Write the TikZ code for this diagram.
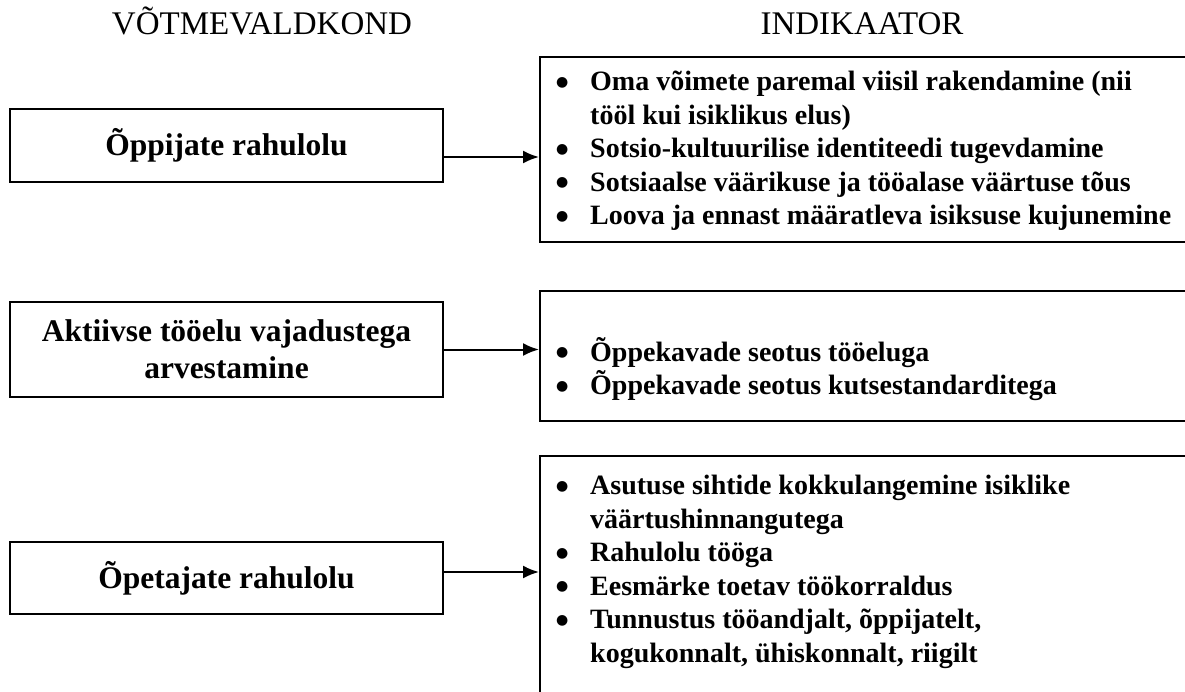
\documentclass[tikz,border=0pt]{standalone}
\usepackage{fontspec}
\setmainfont{Liberation Serif}
\newfontfamily\dotfont{DejaVu Sans}
\usetikzlibrary{arrows.meta,positioning}

\newcommand{\itm}{\makebox[35pt][l]{\hspace{1pt}\raisebox{4.5pt}{\dotfont\mdseries\fontsize{14}{14}\selectfont ●}}}
\newcommand{\cnt}{\hspace*{35pt}}

\begin{document}
\begin{tikzpicture}[x=1pt,y=-1pt,
  keybox/.style={draw,line width=2pt,minimum width=433pt,align=center,
    font=\fontsize{31.5}{37}\selectfont\bfseries},
  indbox/.style={draw,line width=2pt,minimum width=700pt,anchor=north west},
  items/.style={anchor=north west,inner sep=0pt,align=left,
    font=\fontsize{28}{33.5}\selectfont\bfseries},
  head/.style={anchor=base,font=\fontsize{33}{38}\selectfont},
  arr/.style={line width=2pt,-{Latex[length=16pt,width=13pt]}}]
\clip (0,0) rectangle (1185,691);
\fill[white] (0,0) rectangle (1185,691);

% column titles
\node[head] (hkey) at (262,34) {VÕTMEVALDKOND};
\node[head] (hind) at (862,34) {INDIKAATOR};

% key areas
\node[keybox,minimum height=73pt] (opp) at (226.5,145.5) {Õppijate rahulolu};
\node[keybox,minimum height=95pt] (too) at (226.5,349.5) {Aktiivse tööelu vajadustega\\arvestamine};
\node[keybox,minimum height=72pt] (ope) at (226.5,578) {Õpetajate rahulolu};

% indicator frames
\node[indbox,minimum height=185pt] (ind1) at (539,56) {};
\node[indbox,minimum height=130pt] (ind2) at (539,290) {};
\node[indbox,minimum height=300pt] (ind3) at (539,455) {};

% indicator texts
\node[items] (li1) at (555,71) {\itm Oma võimete paremal viisil rakendamine (nii\\
  \cnt tööl kui isiklikus elus)\\
  \itm Sotsio-kultuurilise identiteedi tugevdamine\\
  \itm Sotsiaalse väärikuse ja tööalase väärtuse tõus\\
  \itm Loova ja ennast määratleva isiksuse kujunemine};
\node[items] (li2) at (555,337) {\itm Õppekavade seotus tööeluga\\
  \itm Õppekavade seotus kutsestandarditega};
\node[items] (li3) at (555,475) {\itm Asutuse sihtide kokkulangemine isiklike\\
  \cnt väärtushinnangutega\\
  \itm Rahulolu tööga\\
  \itm Eesmärke toetav töökorraldus\\
  \itm Tunnustus tööandjalt, õppijatelt,\\
  \cnt kogukonnalt, ühiskonnalt, riigilt};

% connectors
\draw[arr] ([yshift=-11.5pt]opp.east) -- ([yshift=-11.5pt]opp.east -| ind1.west);
\draw[arr] (too.east) -- (too.east -| ind2.west);
\draw[arr] ([yshift=6pt]ope.east) -- ([yshift=6pt]ope.east -| ind3.west);
\end{tikzpicture}
\end{document}
